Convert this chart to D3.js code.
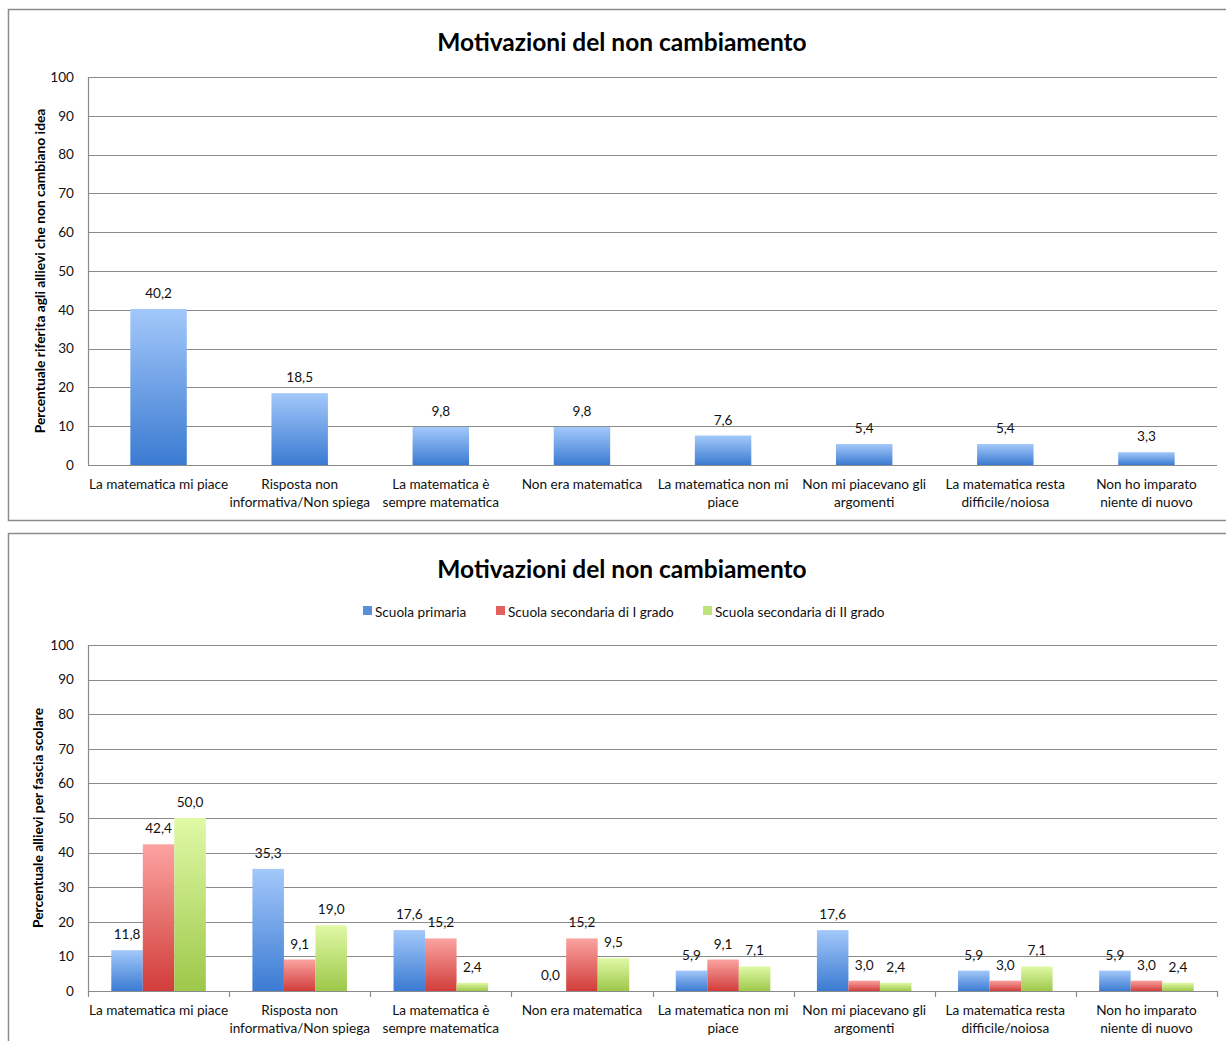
<!DOCTYPE html>
<html>
<head>
<meta charset="utf-8">
<script src="https://cdn.jsdelivr.net/npm/d3@7"></script>
<style>
  html, body { margin: 0; padding: 0; background: #fff; }
  svg { display: block; font-family: Lato, "Open Sans", sans-serif; }
</style>
</head>
<body>
<svg id="chart" width="1226" height="1041"></svg>
<script>
// Reasons given by pupils who did not change their idea
const categories = [
  ["La matematica mi piace"],
  ["Risposta non", "informativa/Non spiega"],
  ["La matematica è", "sempre matematica"],
  ["Non era matematica"],
  ["La matematica non mi", "piace"],
  ["Non mi piacevano gli", "argomenti"],
  ["La matematica resta", "difficile/noiosa"],
  ["Non ho imparato", "niente di nuovo"]
];
const totalValues = [40.2, 18.5, 9.8, 9.8, 7.6, 5.4, 5.4, 3.3];

const seriesNames = ["Scuola primaria", "Scuola secondaria di I grado", "Scuola secondaria di II grado"];
const primaria = [11.8, 35.3, 17.6, 0.0, 5.9, 17.6, 5.9, 5.9];
const secondariaI = [42.4, 9.1, 15.2, 15.2, 9.1, 3.0, 3.0, 3.0];
const secondariaII = [50.0, 19.0, 2.4, 9.5, 7.1, 2.4, 7.1, 2.4];

const yTicks = [0, 10, 20, 30, 40, 50, 60, 70, 80, 90, 100];
const chartTitle = "Motivazioni del non cambiamento";
const yTitleTop = "Percentuale riferita agli allievi che non cambiano idea";
const yTitleBottom = "Percentuale allievi per fascia scolare";

const svg = d3.select("#chart");
const fmt = v => d3.format(".1f")(v).replace(".", ",");
const keys = categories.map((c, i) => "c" + i);
const labelSize = 13.6;

// gradients: light at top, deeper at the base
const defs = svg.append("defs");
const gradients = [
  { id: "gBlue", top: "#a3c8fa", bottom: "#3b7bd2" },
  { id: "gRed", top: "#fba3a1", bottom: "#d13d3a" },
  { id: "gGreen", top: "#e0f9a6", bottom: "#9dc84a" }
];
gradients.forEach(g => {
  const lg = defs.append("linearGradient").attr("id", g.id)
    .attr("x1", 0).attr("y1", 0).attr("x2", 0).attr("y2", 1);
  lg.append("stop").attr("offset", "0%").attr("stop-color", g.top);
  lg.append("stop").attr("offset", "100%").attr("stop-color", g.bottom);
});
const legendColors = ["#5b8fdc", "#e2605d", "#bfe27a"];

// panel frames
svg.append("rect").attr("x", 8.5).attr("y", 9.5).attr("width", 1240).attr("height", 511)
  .attr("fill", "none").attr("stroke", "#8c8c8c").attr("stroke-width", 1.5);
svg.append("rect").attr("x", 8.5).attr("y", 533.5).attr("width", 1240).attr("height", 600)
  .attr("fill", "none").attr("stroke", "#8c8c8c").attr("stroke-width", 1.5);

function drawFrame(g, y, x0, titleY, yTitle, yTitleX, withTicks) {
  // horizontal gridlines
  g.append("g").selectAll("line").data(yTicks).join("line")
    .attr("x1", x0.range()[0]).attr("x2", x0.range()[1])
    .attr("y1", d => Math.round(y(d)) + 0.5).attr("y2", d => Math.round(y(d)) + 0.5)
    .attr("stroke", "#8a8a8a").attr("stroke-width", 1.2);
  // y axis line
  g.append("line")
    .attr("x1", x0.range()[0] + 0.5).attr("x2", x0.range()[0] + 0.5)
    .attr("y1", y(100)).attr("y2", y(0))
    .attr("stroke", "#8a8a8a").attr("stroke-width", 1.2);
  // y tick labels
  g.append("g").selectAll("text").data(yTicks).join("text")
    .attr("x", x0.range()[0] - 14).attr("y", d => y(d))
    .attr("dy", "0.35em").attr("text-anchor", "end")
    .attr("font-size", labelSize).attr("fill", "#111").text(d => d);
  // category boundary ticks
  if (withTicks) {
    const step = x0.step();
    const xs = d3.range(categories.length + 1).map(i => x0.range()[0] + i * step);
    g.append("g").selectAll("line").data(xs).join("line")
      .attr("x1", d => Math.round(d) + 0.5).attr("x2", d => Math.round(d) + 0.5)
      .attr("y1", y(0)).attr("y2", y(0) + 6)
      .attr("stroke", "#8a8a8a").attr("stroke-width", 1.2);
  }
  // category labels
  const cl = g.append("g").selectAll("text").data(categories).join("text")
    .attr("text-anchor", "middle").attr("font-size", labelSize).attr("fill", "#111")
    .attr("transform", (d, i) => `translate(${x0(keys[i]) + x0.bandwidth() / 2},${y(0) + 24})`);
  cl.selectAll("tspan").data(d => d).join("tspan")
    .attr("x", 0).attr("dy", (d, i) => i === 0 ? 0 : 17.5).text(d => d);
  // title
  g.append("text").attr("x", 622).attr("y", titleY).attr("text-anchor", "middle")
    .attr("font-size", 24.5).attr("font-weight", "bold").attr("fill", "#000").text(chartTitle);
  // y axis title
  const yMid = (y(0) + y(100)) / 2;
  g.append("text").attr("transform", `translate(${yTitleX},${yMid}) rotate(-90)`)
    .attr("text-anchor", "middle").attr("font-size", 13.8).attr("font-weight", "bold")
    .attr("fill", "#000").text(yTitle);
}

// ---- Top chart: all pupils ----
{
  const g = svg.append("g");
  const y = d3.scaleLinear().domain([0, 100]).range([465, 77]);
  const x0 = d3.scaleBand().domain(keys).range([88, 1217]).paddingInner(0.6).paddingOuter(0.3);
  const xc = d3.scaleBand().domain(keys).range([88, 1217]);
  drawFrame(g, y, xc, 51, yTitleTop, 45, false);
  g.append("g").selectAll("rect").data(totalValues).join("rect")
    .attr("x", (d, i) => x0(keys[i])).attr("width", x0.bandwidth())
    .attr("y", d => y(d)).attr("height", d => y(0) - y(d))
    .attr("fill", "url(#gBlue)");
  g.append("g").selectAll("text").data(totalValues).join("text")
    .attr("x", (d, i) => x0(keys[i]) + x0.bandwidth() / 2).attr("y", d => y(d) - 11)
    .attr("text-anchor", "middle").attr("font-size", labelSize).attr("fill", "#111")
    .text(d => fmt(d));
}

// ---- Bottom chart: by school level ----
{
  const g = svg.append("g");
  const y = d3.scaleLinear().domain([0, 100]).range([991, 645]);
  const xc = d3.scaleBand().domain(keys).range([88, 1217]);
  const x0 = d3.scaleBand().domain(keys).range([88, 1217]).paddingInner(0.33).paddingOuter(0.165);
  const x1 = d3.scaleBand().domain(seriesNames).range([0, x0.bandwidth()]);
  drawFrame(g, y, xc, 578, yTitleBottom, 43, true);
  const series = [primaria, secondariaI, secondariaII];
  const fills = ["url(#gBlue)", "url(#gRed)", "url(#gGreen)"];
  series.forEach((vals, s) => {
    g.append("g").selectAll("rect").data(vals).join("rect")
      .attr("x", (d, i) => x0(keys[i]) + x1(seriesNames[s])).attr("width", x1.bandwidth())
      .attr("y", d => y(d)).attr("height", d => y(0) - y(d))
      .attr("fill", fills[s]);
    g.append("g").selectAll("text").data(vals).join("text")
      .attr("x", (d, i) => x0(keys[i]) + x1(seriesNames[s]) + x1.bandwidth() / 2)
      .attr("y", d => y(d) - 11)
      .attr("text-anchor", "middle").attr("font-size", labelSize).attr("fill", "#111")
      .text(d => fmt(d));
  });
  // legend
  const legendX = [363, 496, 703];
  const lg = g.append("g").selectAll("g").data(seriesNames).join("g")
    .attr("transform", (d, i) => `translate(${legendX[i]},612)`);
  lg.append("rect").attr("x", 0).attr("y", -6).attr("width", 9).attr("height", 9)
    .attr("fill", (d, i) => legendColors[i]);
  lg.append("text").attr("x", 12).attr("y", 0).attr("dy", "0.35em")
    .attr("font-size", labelSize).attr("fill", "#111").text(d => d);
}
</script>
</body>
</html>
